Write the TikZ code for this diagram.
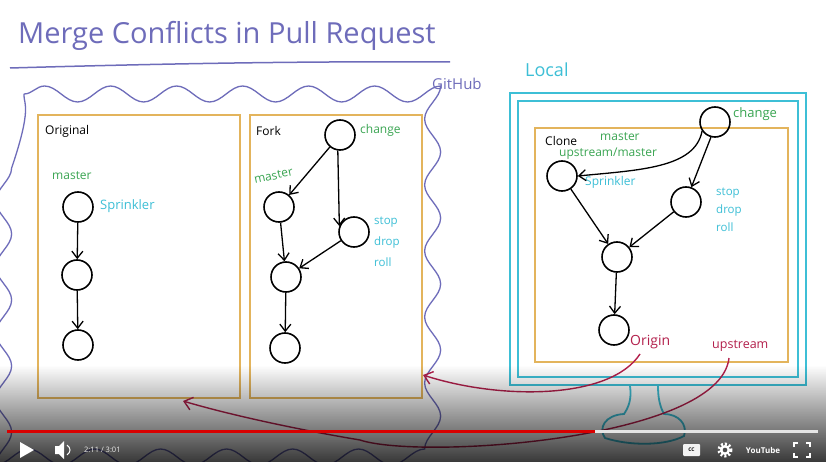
\documentclass[tikz,border=0pt]{standalone}
\usepackage{fontspec}
\setmainfont{Open Sans}
\usetikzlibrary{arrows.meta,decorations.pathmorphing,fadings}
\definecolor{purp}{HTML}{6E6CBA}
\definecolor{gold}{HTML}{E3B45C}
\definecolor{cyanl}{HTML}{3DBFD6}
\definecolor{greenl}{HTML}{3AA552}
\definecolor{crim}{HTML}{B3204C}
\tikzset{
  commit/.style={circle,draw=black,line width=1.6pt,minimum size=30pt,inner sep=0pt},
  arr/.style={draw=black,line width=1.3pt,-{Straight Barb[length=7pt,width=11pt,line width=1.3pt]}},
  redarr/.style={draw=crim,line width=1.4pt,-{Straight Barb[length=8pt,width=13pt,line width=1.4pt]}},
  box/.style={draw=gold,line width=2pt},
  mon/.style={draw=cyanl,line width=1.8pt},
  lbl/.style={inner sep=0pt,anchor=west,font=\fontsize{12}{13}\selectfont},
  blk/.style={lbl,text=black},
  grn/.style={lbl,text=greenl},
  cyn/.style={lbl,text=cyanl},
  red/.style={lbl,text=crim,font=\fontsize{14}{15}\selectfont},
}
\begin{document}
\begin{tikzpicture}[x=1pt,y=-1pt]
\useasboundingbox[fill=white] (0,0) rectangle (826,462);
% title
\node[inner sep=0pt,anchor=west,text=purp,font=\fontsize{29}{30}\selectfont] (title) at (18,36) {Merge Conflicts in Pull Request};
\draw[purp,line width=1.5pt] (10,68) .. controls (150,64) and (300,61) .. (450,62);
\node[inner sep=0pt,anchor=west,text=purp,font=\fontsize{15}{16}\selectfont] (gh) at (432,84) {GitHub};
% github cloud
\draw[purp,line width=1.3pt,decorate,decoration={snake,segment length=66pt,amplitude=8pt}]
  (24,94) -- (440,94) -- (440,442) -- (24,442) -- cycle;
% Original box
\draw[box] (38,115) rectangle (240,398);
\node[blk] (orl) at (45,131) {Original};
\node[grn] (om) at (52,176) {master};
\node[commit] (o1) at (78,207) {};
\node[commit] (o2) at (77,275) {};
\node[commit] (o3) at (78,345) {};
\node[cyn,font=\fontsize{13}{14}\selectfont] (osp) at (100,206) {Sprinkler};
\draw[arr] (o1) -- (o2);
\draw[arr] (o2) -- (o3);
% Fork box
\draw[box] (250,115) rectangle (422,398);
\node[blk] (frl) at (256,131) {Fork};
\node[grn] (fch) at (360,130) {change};
\node[grn,rotate=12] (fm) at (254,180) {master};
\node[commit] (f0) at (340,135) {};
\node[commit] (f1) at (279,207) {};
\node[commit] (f2) at (354,232) {};
\node[commit] (f3) at (286,277) {};
\node[commit] (f4) at (285,348) {};
\node[cyn,anchor=north west,align=left,font=\fontsize{11.5}{21}\selectfont] (fsd) at (374,217) {stop\\drop\\roll};
\draw[arr] (f0) -- (f1);
\draw[arr] (f0.262) -- (f2.158);
\draw[arr] (f1) -- (f3);
\draw[arr] (f2) -- (f3);
\draw[arr] (f3) -- (f4);
% Local monitor
\node[inner sep=0pt,anchor=west,text=cyanl,font=\fontsize{18}{20}\selectfont] (loc) at (525,70) {Local};
\draw[mon] (510,93) rectangle (806,385);
\draw[mon] (518,101) rectangle (798,377);
\draw[mon] (630,386) .. controls (632,400) and (628,408) .. (624,414)
  .. controls (605,415) and (598,428) .. (605,438)
  .. controls (630,446) and (665,446) .. (684,436)
  .. controls (688,424) and (678,414) .. (664,414)
  .. controls (659,405) and (658,395) .. (658,386);
% Clone box
\draw[box] (535,128) rectangle (788,362);
\node[blk] (cll) at (545,141) {Clone};
\node[grn] (cm1) at (600,137) {master};
\node[grn] (cm2) at (559,154) {upstream/master};
\node[commit] (c0) at (715,122) {};
\node[grn,font=\fontsize{13}{14}\selectfont] (cch) at (733,114) {change};
\node[commit] (c1) at (562,176) {};
\node[commit] (c2) at (686,202) {};
\node[commit] (c3) at (617,257) {};
\node[commit] (c4) at (614,330) {};
\node[cyn] (csp) at (585,182) {Sprinkler};
\node[cyn,anchor=north west,align=left,font=\fontsize{11.5}{18}\selectfont] (csd) at (716,188) {stop\\drop\\roll};
\draw[arr] (c0.215) .. controls (695,168) and (640,170) .. (c1.east);
\draw[arr] (c0.255) -- (c2.70);
\draw[arr] (c1) -- (c3);
\draw[arr] (c2) -- (c3);
\draw[arr] (c3) -- (c4);
\node[red] (orig) at (630,342) {Origin};
\node[red,font=\fontsize{12.5}{13}\selectfont] (ups) at (712,346) {upstream};
\coordinate (t1) at (423,375);
\coordinate (t2) at (183,401);
\draw[redarr] (640,354) .. controls (610,400) and (500,400) .. (t1);
\draw[redarr] (729,358) .. controls (720,440) and (420,460) .. (360,440)
  .. controls (300,430) and (230,415) .. (t2);
% video player bar
\fill[black,path fading=north,fill opacity=0.78] (0,365) rectangle (826,462);
\draw[white!80!gray,line width=3pt] (7,431) -- (818,431);
\draw[red!85!black,line width=3pt] (7,431) -- (595,431);
\fill[white] (20,442) -- (20,458) -- (34,450) -- cycle;
\fill[white] (55,446) -- (59,446) -- (64,441) -- (64,459) -- (59,454) -- (55,454) -- cycle;
\draw[white,line width=1pt] (67,445) .. controls (71,448) and (71,452) .. (67,455);
\node[inner sep=0pt,anchor=west,text=white!85!gray,font=\fontsize{7.5}{8}\selectfont] (time) at (84,450) {2:11 / 3:01};
\fill[white!90!gray,rounded corners=1pt] (683,444) rectangle (700,456);
\node[inner sep=0pt,text=black,font=\fontsize{5}{6}\selectfont\bfseries] (cc) at (691.5,450) {CC};
\draw[white,line width=3pt,dash pattern=on 2pt off 2pt] (725,450) circle (6);
\fill[white] (725,450) circle (5);
\fill[black!70] (725,450) circle (2.3);
\node[inner sep=0pt,text=white,font=\fontsize{8}{9}\selectfont\bfseries] (yt) at (763,450) {YouTube};
\draw[white,line width=1.8pt] (794,447) -- (794,443) -- (798,443) (806,443) -- (810,443) -- (810,447)
  (810,453) -- (810,457) -- (806,457) (798,457) -- (794,457) -- (794,453);
\end{tikzpicture}
\end{document}
